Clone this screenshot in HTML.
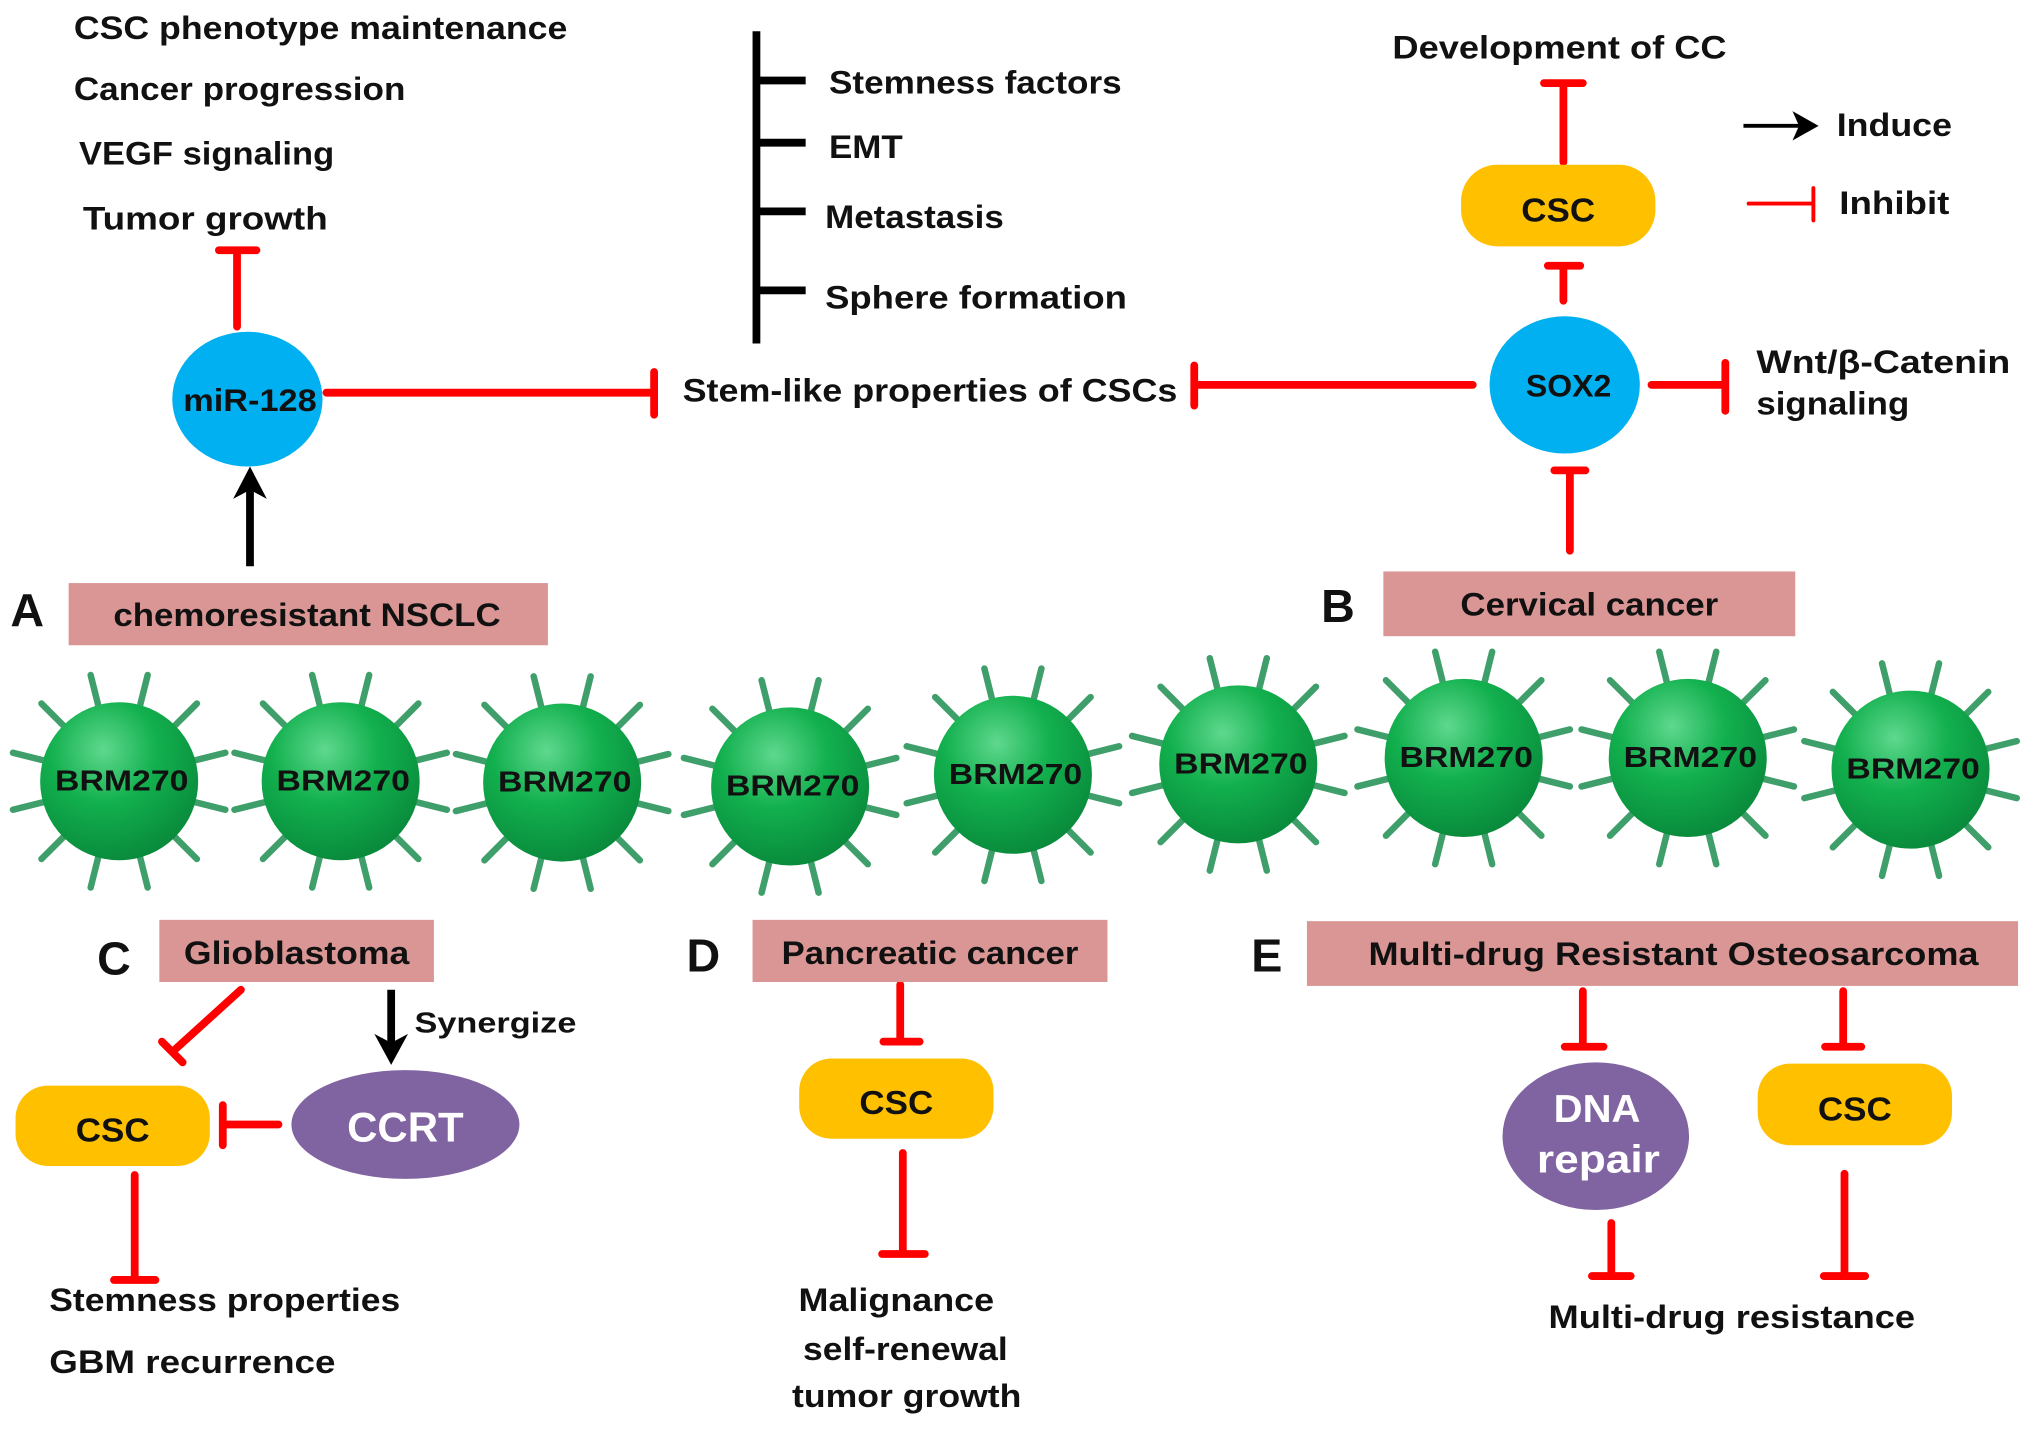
<!DOCTYPE html>
<html><head><meta charset="utf-8"><style>
html,body{margin:0;padding:0;background:#fff;}
svg{display:block;}
text{font-family:"Liberation Sans",sans-serif;font-weight:bold;fill:#111;}
</style></head><body>
<svg width="2031" height="1433" viewBox="0 0 1568 1106" xmlns="http://www.w3.org/2000/svg">
<defs>
<radialGradient id="g" cx="0.4" cy="0.3" r="0.75">
<stop offset="0" stop-color="#5fd88e"/><stop offset="0.45" stop-color="#12b04e"/><stop offset="1" stop-color="#08873a"/>
</radialGradient>
<g id="cell">
<path d="M58 16L82 22M42 42L60 60M16 58L22 82M-58 16L-82 22M-42 42L-60 60M-16 58L-22 82M58 -16L82 -22M42 -42L60 -60M16 -58L22 -82M-58 -16L-82 -22M-42 -42L-60 -60M-16 -58L-22 -82" stroke="#3f9f6a" stroke-width="5" stroke-linecap="round"/>
<circle r="61" fill="url(#g)"/>
</g>
</defs>
<rect width="1568" height="1106" fill="#fff"/>

<text x="57" y="30" font-size="25" textLength="381" lengthAdjust="spacingAndGlyphs">CSC phenotype maintenance</text>
<text x="57" y="77" font-size="25" textLength="256" lengthAdjust="spacingAndGlyphs">Cancer progression</text>
<text x="61" y="127" font-size="25" textLength="197" lengthAdjust="spacingAndGlyphs">VEGF signaling</text>
<text x="64" y="177" font-size="25" textLength="189" lengthAdjust="spacingAndGlyphs">Tumor growth</text>
<g stroke="#f00" stroke-width="6" stroke-linecap="round" fill="none">
<path d="M183 252V193M169 193H198"/>
<path d="M252 303H505M505 287V320"/>
<path d="M1137 297H922M922 282V313"/>
<path d="M1207 125V64M1192 64H1222"/>
<path d="M1207 232V205M1195 205H1220"/>
<path d="M1275 297H1332M1332 280V317"/>
<path d="M1212 425V363M1200 363H1224"/>
<path d="M1350 157H1400M1400 145V170" stroke-width="3"/>
<path d="M186 764L133 812M125 804L141 820"/>
<path d="M215 868H172M172 853V884"/>
<path d="M104 907V988M88 988H120"/>
<path d="M695 760V804M682 804H710"/>
<path d="M697 890V968M681 968H714"/>
<path d="M1222 765V808M1208 808H1238"/>
<path d="M1423 765V808M1409 808H1437"/>
<path d="M1244 944V985M1229 985H1259"/>
<path d="M1424 906V985M1408 985H1440"/>
</g>
<g stroke="#000" stroke-width="6" fill="none">
<path d="M193 437V370"/>
<path d="M302 764V812"/>
<path d="M1346 97H1398" stroke-width="3"/>
</g>
<path d="M193 360L180 385L193 378L206 385Z" fill="#000"/>
<path d="M302 822L289 798L302 805L315 798Z" fill="#000"/>
<path d="M1402 97L1386 88L1390 97L1386 106Z" fill="#000" stroke="#000" stroke-width="2"/>
<text x="1418" y="105" font-size="25" textLength="89" lengthAdjust="spacingAndGlyphs">Induce</text>
<text x="1420" y="165" font-size="25" textLength="85" lengthAdjust="spacingAndGlyphs">Inhibit</text>

<g stroke="#000" stroke-width="6"><path d="M584 24V265M584 62H622M584 110H622M584 163H622M584 224H622"/></g>
<text x="640" y="72" font-size="25" textLength="226" lengthAdjust="spacingAndGlyphs">Stemness factors</text>
<text x="640" y="122" font-size="25" textLength="57" lengthAdjust="spacingAndGlyphs">EMT</text>
<text x="637" y="176" font-size="25" textLength="138" lengthAdjust="spacingAndGlyphs">Metastasis</text>
<text x="637" y="238" font-size="25" textLength="233" lengthAdjust="spacingAndGlyphs">Sphere formation</text>
<text x="527" y="310" font-size="25" textLength="382" lengthAdjust="spacingAndGlyphs">Stem-like properties of CSCs</text>

<ellipse cx="191" cy="308" rx="58" ry="52" fill="#00b0f0"/>
<text x="193" y="317" font-size="24" text-anchor="middle" textLength="103" lengthAdjust="spacingAndGlyphs">miR-128</text>
<ellipse cx="1208" cy="297" rx="58" ry="53" fill="#00b0f0"/>
<text x="1211" y="306" font-size="24" text-anchor="middle" textLength="66" lengthAdjust="spacingAndGlyphs">SOX2</text>
<text x="1075" y="45" font-size="25" textLength="258" lengthAdjust="spacingAndGlyphs">Development of CC</text>
<rect x="1128" y="127" width="150" height="63" rx="28" fill="#ffc000"/>
<text x="1203" y="171" font-size="26" text-anchor="middle" textLength="57" lengthAdjust="spacingAndGlyphs">CSC</text>
<text x="1356" y="288" font-size="25" textLength="196" lengthAdjust="spacingAndGlyphs">Wnt/β-Catenin</text>
<text x="1356" y="320" font-size="25" textLength="118" lengthAdjust="spacingAndGlyphs">signaling</text>

<text x="8" y="483" font-size="36">A</text>
<rect x="53" y="450" width="370" height="48" fill="#d99694"/>
<text x="237" y="483" font-size="25" text-anchor="middle" textLength="299" lengthAdjust="spacingAndGlyphs">chemoresistant NSCLC</text>
<text x="1020" y="480" font-size="36">B</text>
<rect x="1068" y="441" width="318" height="50" fill="#d99694"/>
<text x="1227" y="475" font-size="25" text-anchor="middle" textLength="199" lengthAdjust="spacingAndGlyphs">Cervical cancer</text>

<use href="#cell" x="92" y="603"/><use href="#cell" x="263" y="603"/><use href="#cell" x="434" y="604"/>
<use href="#cell" x="610" y="607"/><use href="#cell" x="782" y="598"/><use href="#cell" x="956" y="590"/>
<use href="#cell" x="1130" y="585"/><use href="#cell" x="1303" y="585"/><use href="#cell" x="1475" y="594"/>
<g font-size="22" text-anchor="middle">
<text x="94" y="610" textLength="103" lengthAdjust="spacingAndGlyphs">BRM270</text>
<text x="265" y="610" textLength="103" lengthAdjust="spacingAndGlyphs">BRM270</text>
<text x="436" y="611" textLength="103" lengthAdjust="spacingAndGlyphs">BRM270</text>
<text x="612" y="614" textLength="103" lengthAdjust="spacingAndGlyphs">BRM270</text>
<text x="784" y="605" textLength="103" lengthAdjust="spacingAndGlyphs">BRM270</text>
<text x="958" y="597" textLength="103" lengthAdjust="spacingAndGlyphs">BRM270</text>
<text x="1132" y="592" textLength="103" lengthAdjust="spacingAndGlyphs">BRM270</text>
<text x="1305" y="592" textLength="103" lengthAdjust="spacingAndGlyphs">BRM270</text>
<text x="1477" y="601" textLength="103" lengthAdjust="spacingAndGlyphs">BRM270</text>
</g>

<text x="75" y="752" font-size="36">C</text>
<rect x="123" y="710" width="212" height="48" fill="#d99694"/>
<text x="229" y="744" font-size="25" text-anchor="middle" textLength="174" lengthAdjust="spacingAndGlyphs">Glioblastoma</text>
<text x="320" y="797" font-size="22" textLength="125" lengthAdjust="spacingAndGlyphs">Synergize</text>
<rect x="12" y="838" width="150" height="62" rx="25" fill="#ffc000"/>
<text x="87" y="881" font-size="26" text-anchor="middle" textLength="57" lengthAdjust="spacingAndGlyphs">CSC</text>
<ellipse cx="313" cy="868" rx="88" ry="42" fill="#8064a2"/>
<text x="313" y="881" font-size="32" text-anchor="middle" style="fill:#fff" textLength="90" lengthAdjust="spacingAndGlyphs">CCRT</text>
<text x="38" y="1012" font-size="25" textLength="271" lengthAdjust="spacingAndGlyphs">Stemness properties</text>
<text x="38" y="1060" font-size="25" textLength="221" lengthAdjust="spacingAndGlyphs">GBM  recurrence</text>

<text x="530" y="750" font-size="36">D</text>
<rect x="581" y="710" width="274" height="48" fill="#d99694"/>
<text x="718" y="744" font-size="25" text-anchor="middle" textLength="229" lengthAdjust="spacingAndGlyphs">Pancreatic cancer</text>
<rect x="617" y="817" width="150" height="62" rx="25" fill="#ffc000"/>
<text x="692" y="860" font-size="26" text-anchor="middle" textLength="57" lengthAdjust="spacingAndGlyphs">CSC</text>
<text x="692" y="1012" font-size="25" text-anchor="middle" textLength="151" lengthAdjust="spacingAndGlyphs">Malignance</text>
<text x="699" y="1050" font-size="25" text-anchor="middle" textLength="158" lengthAdjust="spacingAndGlyphs">self-renewal</text>
<text x="700" y="1086" font-size="25" text-anchor="middle" textLength="177" lengthAdjust="spacingAndGlyphs">tumor growth</text>

<text x="966" y="750" font-size="36">E</text>
<rect x="1009" y="711" width="549" height="50" fill="#d99694"/>
<text x="1292" y="745" font-size="25" text-anchor="middle" textLength="471" lengthAdjust="spacingAndGlyphs">Multi-drug Resistant Osteosarcoma</text>
<ellipse cx="1232" cy="877" rx="72" ry="57" fill="#8064a2"/>
<text x="1233" y="866" font-size="30" text-anchor="middle" style="fill:#fff" textLength="67" lengthAdjust="spacingAndGlyphs">DNA</text>
<text x="1234" y="905" font-size="30" text-anchor="middle" style="fill:#fff" textLength="95" lengthAdjust="spacingAndGlyphs">repair</text>
<rect x="1357" y="821" width="150" height="63" rx="25" fill="#ffc000"/>
<text x="1432" y="865" font-size="26" text-anchor="middle" textLength="57" lengthAdjust="spacingAndGlyphs">CSC</text>
<text x="1337" y="1025" font-size="25" text-anchor="middle" textLength="283" lengthAdjust="spacingAndGlyphs">Multi-drug resistance</text>
</svg>
</body></html>
